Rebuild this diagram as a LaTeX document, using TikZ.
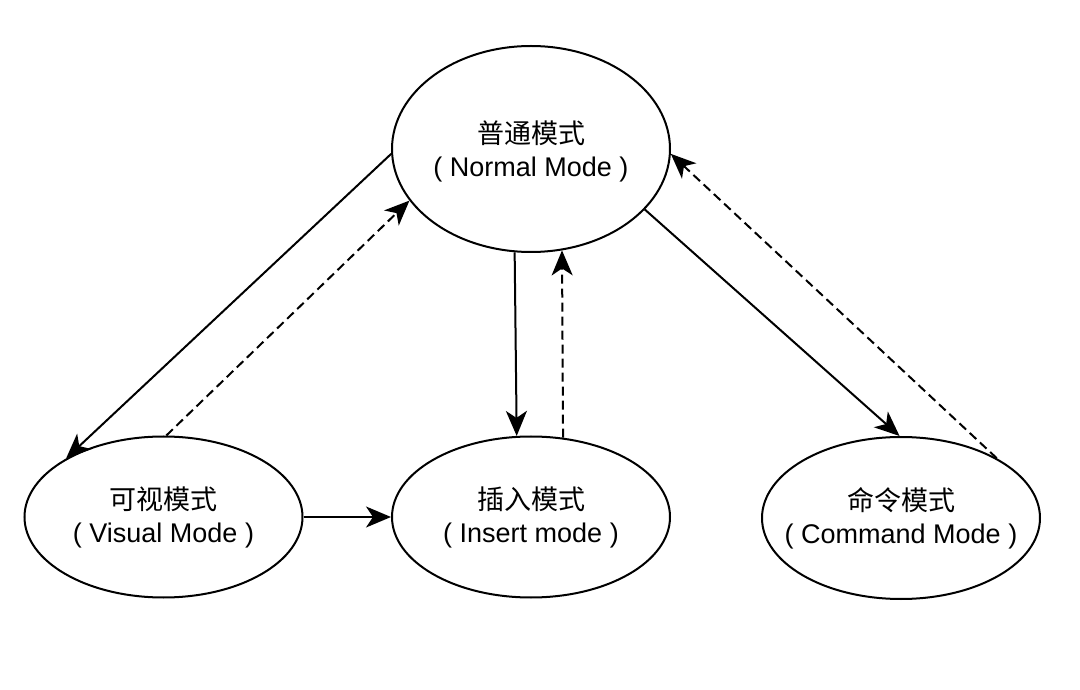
\documentclass[tikz,border=0pt]{standalone}
\usepackage{fontspec}
\setmainfont{Liberation Sans}
\newfontfamily\cjk{Noto Sans CJK SC}
\usetikzlibrary{shapes.geometric,arrows.meta}
\begin{document}
\begin{tikzpicture}[x=1pt,y=1pt,
  mode/.style={ellipse,draw=black,line width=2pt,inner sep=0pt,
    minimum width=278pt},
  lbl/.style={align=center,inner sep=0pt,font=\fontsize{27}{33}\selectfont},
  tip/.style={-{Stealth[length=25pt,width=21pt,inset=7pt]}},
  conn/.style={line width=2pt,tip},
  dconn/.style={conn,dash pattern=on 9pt off 5pt}]
\useasboundingbox[fill=white] (0,0) rectangle (1080,689);
\node[mode,minimum height=206pt] (normal) at (531,540) {};
\node[mode,minimum height=161pt] (visual) at (163.5,172) {};
\node[mode,minimum height=161pt] (insert) at (531,172) {};
\node[mode,minimum height=162pt] (command) at (901,171) {};
\node[lbl] (normaltxt) at ([yshift=-2pt]normal.center) {{\cjk 普通模式}\\( Normal Mode )};
\node[lbl] (visualtxt) at (visual.center) {{\cjk 可视模式}\\( Visual Mode )};
\node[lbl] (inserttxt) at (insert.center) {{\cjk 插入模式}\\( Insert mode )};
\node[lbl] (commandtxt) at (command.center) {{\cjk 命令模式}\\( Command Mode )};
\draw[conn] (normal.182) -- (visual.149);
\draw[dconn] (visual.88) -- (normal.203);
\draw[conn] (normal.261.7) -- (insert.100.6);
\draw[dconn] (insert.68.3) -- (normal.287.1);
\draw[conn] (normal.332.5) -- (command.91);
\draw[dconn] (command.32.6) -- (normal.358);
\draw[conn] (visual.0) -- (insert.180);
\end{tikzpicture}
\end{document}
